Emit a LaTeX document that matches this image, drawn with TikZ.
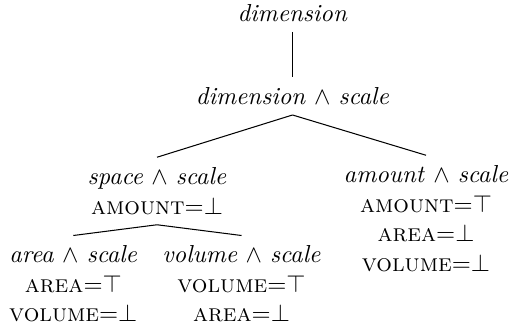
\documentclass[tikz,border=0pt]{standalone}
\begin{document}
\begin{tikzpicture}[x=0.407pt,y=-0.407pt,
  lbl/.style={align=center,inner sep=4pt,font=\normalsize},
  edge/.style={draw=black,line width=0.42pt}]
\useasboundingbox (0,0) rectangle (510,327);
\node[lbl] (dim) at (292.5,13) {\textit{dimension}};
\node[lbl] (ds) at (292.5,96) {\textit{dimension} $\wedge$ \textit{scale}};
\node[lbl] (sp) at (157,191) {\textit{space} $\wedge$ \textit{scale}\\ \textsc{amount}=$\bot$};
\node[lbl] (am) at (426,218.5) {\textit{amount} $\wedge$ \textit{scale}\\ \textsc{amount}=$\top$\\ \textsc{area}=$\bot$\\ \textsc{volume}=$\bot$};
\node[lbl] (ar) at (73.3,284) {\textit{area} $\wedge$ \textit{scale}\\ \textsc{area}=$\top$\\ \textsc{volume}=$\bot$};
\node[lbl] (vo) at (241.5,284) {\textit{volume} $\wedge$ \textit{scale}\\ \textsc{volume}=$\top$\\ \textsc{area}=$\bot$};
\draw[edge] (dim.south) -- (ds.north);
\draw[edge] (ds.south) -- (sp.north);
\draw[edge] (ds.south) -- (am.north);
\draw[edge] (sp.south) -- (ar.north);
\draw[edge] (sp.south) -- (vo.north);
\end{tikzpicture}
\end{document}
